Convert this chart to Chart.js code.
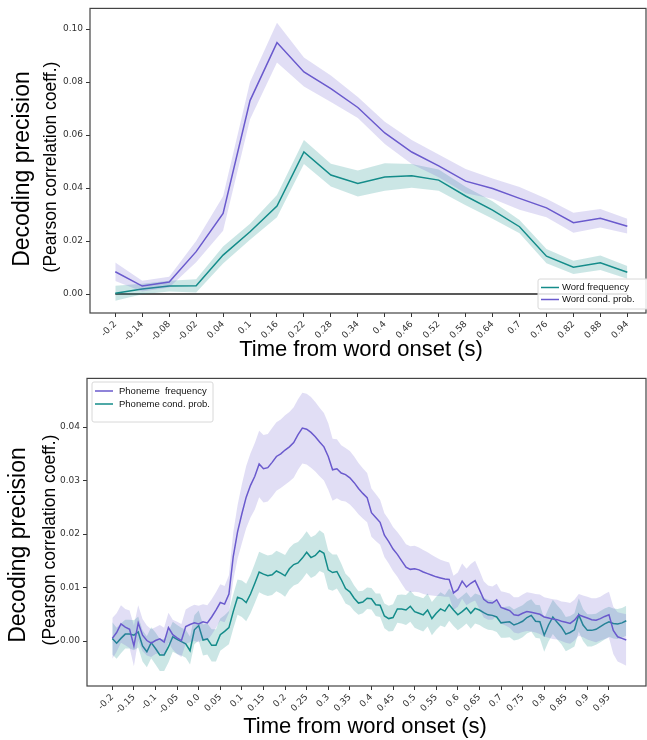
<!DOCTYPE html>
<html lang="en">
<head>
<meta charset="UTF-8">
<title>Decoding precision</title>
<style>
  body { margin: 0; background: #fff; }
  .panel { position: absolute; left: 0; width: 647px; height: 370px; }
</style>
</head>
<body>
<div class="panel" style="top:0"><canvas id="wordChart" width="647" height="370"></canvas></div>
<div class="panel" style="top:370px"><canvas id="phonemeChart" width="647" height="370"></canvas></div>

<script src="https://cdn.jsdelivr.net/npm/chart.js"></script>
<script>
// ---- word-level panel (top) ----
const wordTimes = [-0.2, -0.14, -0.08, -0.02, 0.04, 0.1, 0.16, 0.22, 0.28, 0.34, 0.4, 0.46, 0.52, 0.58, 0.64, 0.7, 0.76, 0.82, 0.88, 0.94];
const wordXLabels = ['-0.2', '-0.14', '-0.08', '-0.02', '0.04', '0.1', '0.16', '0.22', '0.28', '0.34', '0.4', '0.46', '0.52', '0.58', '0.64', '0.7', '0.76', '0.82', '0.88', '0.94'];
const wordYTicks = [0, 0.02, 0.04, 0.06, 0.08, 0.10];
const wordFreq = [0.0003, 0.0019, 0.003, 0.0031, 0.0147, 0.0235, 0.0332, 0.0536, 0.0449, 0.0417, 0.0442, 0.0446, 0.043, 0.037, 0.0317, 0.0254, 0.0143, 0.0101, 0.0118, 0.0082];
const wordFreqSem = [0.0028, 0.002, 0.002, 0.0025, 0.0032, 0.003, 0.0042, 0.0045, 0.0043, 0.0049, 0.0052, 0.0045, 0.004, 0.0035, 0.0033, 0.0025, 0.0027, 0.0025, 0.0027, 0.0024];
const wordCond = [0.0084, 0.003, 0.0045, 0.016, 0.0304, 0.073, 0.0949, 0.0838, 0.0775, 0.0704, 0.0608, 0.0536, 0.0484, 0.0426, 0.0398, 0.0361, 0.0325, 0.0269, 0.0286, 0.0256];
const wordCondSem = [0.0035, 0.002, 0.002, 0.004, 0.0065, 0.007, 0.0075, 0.0055, 0.005, 0.004, 0.0042, 0.0045, 0.0043, 0.0046, 0.0038, 0.0043, 0.0035, 0.0038, 0.0035, 0.0028];

// ---- phoneme-level panel (bottom) ----
const phonTimes = [
  -0.2, -0.19, -0.18, -0.17, -0.16, -0.15, -0.14, -0.13, -0.12, -0.11,
  -0.1, -0.09, -0.08, -0.07, -0.06, -0.05, -0.04, -0.03, -0.02, -0.01,
  0.0, 0.01, 0.02, 0.03, 0.04, 0.05, 0.06, 0.07, 0.08, 0.09,
  0.1, 0.11, 0.12, 0.13, 0.14, 0.15, 0.16, 0.17, 0.18, 0.19,
  0.2, 0.21, 0.22, 0.23, 0.24, 0.25, 0.26, 0.27, 0.28, 0.29,
  0.3, 0.31, 0.32, 0.33, 0.34, 0.35, 0.36, 0.37, 0.38, 0.39,
  0.4, 0.41, 0.42, 0.43, 0.44, 0.45, 0.46, 0.47, 0.48, 0.49,
  0.5, 0.51, 0.52, 0.53, 0.54, 0.55, 0.56, 0.57, 0.58, 0.59,
  0.6, 0.61, 0.62, 0.63, 0.64, 0.65, 0.66, 0.67, 0.68, 0.69,
  0.7, 0.71, 0.72, 0.73, 0.74, 0.75, 0.76, 0.77, 0.78, 0.79,
  0.8, 0.81, 0.82, 0.83, 0.84, 0.85, 0.86, 0.87, 0.88, 0.89,
  0.9, 0.91, 0.92, 0.93, 0.94, 0.95, 0.96, 0.97, 0.98, 0.99
];
const phonXTicks = [-0.2, -0.15, -0.1, -0.05, 0.0, 0.05, 0.1, 0.15, 0.2, 0.25, 0.3, 0.35, 0.4, 0.45, 0.5, 0.55, 0.6, 0.65, 0.7, 0.75, 0.8, 0.85, 0.9, 0.95];
const phonXLabels = ['-0.2', '-0.15', '-0.1', '-0.05', '0.0', '0.05', '0.1', '0.15', '0.2', '0.25', '0.3', '0.35', '0.4', '0.45', '0.5', '0.55', '0.6', '0.65', '0.7', '0.75', '0.8', '0.85', '0.9', '0.95'];
const phonYTicks = [0, 0.01, 0.02, 0.03, 0.04];
const phonFreq = [
  0.0005, 0.0016, 0.0032, 0.0026, 0.0022, -0.0009, 0.0034, 0.0011, 0.0001, -0.0004,
  0.0001, 0.0004, -0.0002, 0.0025, 0.0012, 0.0006, 0.0001, 0.0027, 0.0031, 0.0034,
  0.0032, 0.0036, 0.0034, 0.0045, 0.0058, 0.0072, 0.0069, 0.0088, 0.0158, 0.0204,
  0.0238, 0.0269, 0.0291, 0.0308, 0.0331, 0.0322, 0.0324, 0.0334, 0.0345, 0.035,
  0.0357, 0.0363, 0.0371, 0.0386, 0.0398, 0.0396, 0.039, 0.0382, 0.0372, 0.0363,
  0.0345, 0.032, 0.0322, 0.0314, 0.0311, 0.0305, 0.0296, 0.0285, 0.0276, 0.0268,
  0.024, 0.0231, 0.0222, 0.0198, 0.0186, 0.0172, 0.0162, 0.015, 0.0138, 0.0134,
  0.0135, 0.0133, 0.0129, 0.0126, 0.0123, 0.012, 0.0118, 0.0116, 0.0115, 0.009,
  0.0096, 0.0112, 0.0101, 0.0108, 0.0113, 0.0096, 0.0078, 0.0072, 0.0071, 0.0077,
  0.0063, 0.006, 0.0057, 0.0049, 0.0048, 0.0052, 0.0055, 0.0054, 0.0052, 0.005,
  0.0045, 0.0043, 0.0041, 0.004, 0.0037, 0.0035, 0.0033, 0.0039, 0.0049, 0.0046,
  0.0043, 0.004, 0.0039, 0.0042, 0.0046, 0.0049, 0.002, 0.0008, 0.0005, 0.0002
];
const phonFreqSem = [
  0.0038, 0.0036, 0.0035, 0.0034, 0.0035, 0.0038, 0.0033, 0.003, 0.0028, 0.0026,
  0.0025, 0.0026, 0.0027, 0.0028, 0.0028, 0.003, 0.0031, 0.0032, 0.0033, 0.0034,
  0.0034, 0.0033, 0.0033, 0.0033, 0.0033, 0.0034, 0.0034, 0.0035, 0.0045, 0.005,
  0.0055, 0.0058, 0.006, 0.0062, 0.0062, 0.0063, 0.0063, 0.0064, 0.0064, 0.0064,
  0.0065, 0.0065, 0.0066, 0.0066, 0.0066, 0.0066, 0.0066, 0.0065, 0.0064, 0.0063,
  0.0062, 0.0058, 0.0055, 0.0052, 0.005, 0.005, 0.0049, 0.0048, 0.0047, 0.0046,
  0.0045, 0.0044, 0.0042, 0.0041, 0.0041, 0.0041, 0.0042, 0.0043, 0.0043, 0.0043,
  0.0043, 0.0042, 0.0041, 0.004, 0.0038, 0.0036, 0.0034, 0.0033, 0.0032, 0.0032,
  0.0032, 0.0033, 0.0034, 0.0036, 0.0037, 0.0036, 0.0034, 0.0032, 0.0031, 0.003,
  0.003, 0.0031, 0.0032, 0.0033, 0.0034, 0.0035, 0.0036, 0.0036, 0.0036, 0.0037,
  0.0037, 0.0037, 0.0037, 0.0037, 0.0037, 0.0038, 0.0038, 0.0038, 0.0039, 0.0039,
  0.004, 0.004, 0.0041, 0.0041, 0.0042, 0.0043, 0.0044, 0.0046, 0.0047, 0.0048
];
const phonCond = [
  0.0005, -0.0004, 0.0005, 0.0013, 0.0013, 0.0011, 0.0017, -0.0009, -0.002, -0.0003,
  -0.0014, -0.0026, -0.0026, -0.0011, 0.0008, 0.0003, -0.0001, -0.0005, -0.0018, 0.0021,
  0.0029, 0.0002, 0.0004, -0.0008, -0.0008, 0.0012, 0.0018, 0.0025, 0.0055, 0.0082,
  0.0079, 0.0072, 0.0088, 0.0108, 0.0129, 0.0125, 0.0122, 0.0124, 0.0131, 0.0127,
  0.0122, 0.0135, 0.0143, 0.0146, 0.0155, 0.0166, 0.0156, 0.016, 0.0169, 0.0164,
  0.0133, 0.0128, 0.013, 0.0115, 0.0098, 0.0092, 0.008, 0.0071, 0.0073, 0.008,
  0.0079, 0.0068, 0.0067, 0.0047, 0.0042, 0.0044, 0.006, 0.006, 0.0058, 0.0065,
  0.0055, 0.0052, 0.0049, 0.0058, 0.0042, 0.0052, 0.006, 0.0056, 0.0068, 0.0058,
  0.0049, 0.0055, 0.0062, 0.0052, 0.0061, 0.0058, 0.0053, 0.0049, 0.0048, 0.0045,
  0.0034, 0.0035, 0.0036, 0.003, 0.0033, 0.0037, 0.0044, 0.0048, 0.0037, 0.0036,
  0.0011, 0.003, 0.0045, 0.0035, 0.0026, 0.0013, 0.0016, 0.0021, 0.0049, 0.003,
  0.002, 0.002, 0.0022, 0.0027, 0.0032, 0.0036, 0.0033, 0.0032, 0.0034, 0.0038
];
const phonCondSem = [
  0.003, 0.0029, 0.0028, 0.0027, 0.0027, 0.0028, 0.0029, 0.0029, 0.0029, 0.0029,
  0.003, 0.003, 0.003, 0.0029, 0.0028, 0.0027, 0.0026, 0.0026, 0.0026, 0.0027,
  0.0028, 0.0029, 0.0029, 0.003, 0.003, 0.003, 0.003, 0.0031, 0.0032, 0.0033,
  0.0034, 0.0035, 0.0036, 0.0037, 0.0038, 0.0038, 0.0038, 0.0038, 0.0038, 0.0038,
  0.0039, 0.0039, 0.0039, 0.0039, 0.0039, 0.0039, 0.0038, 0.0038, 0.0038, 0.0037,
  0.0036, 0.0034, 0.0032, 0.003, 0.0028, 0.0026, 0.0024, 0.0022, 0.0021, 0.002,
  0.002, 0.0021, 0.0022, 0.0023, 0.0024, 0.0025, 0.0026, 0.0027, 0.0028, 0.0029,
  0.003, 0.0031, 0.0031, 0.0031, 0.0031, 0.0031, 0.0031, 0.003, 0.003, 0.003,
  0.0029, 0.0029, 0.0029, 0.0029, 0.0028, 0.0028, 0.0028, 0.0028, 0.0028, 0.0028,
  0.0028, 0.0029, 0.0029, 0.0029, 0.003, 0.003, 0.003, 0.003, 0.0031, 0.0031,
  0.0031, 0.0031, 0.0032, 0.0032, 0.0032, 0.0032, 0.0031, 0.0031, 0.0031, 0.003,
  0.003, 0.003, 0.0029, 0.0029, 0.0029, 0.0028, 0.0028, 0.0028, 0.0028, 0.0028
];

const PURPLE = '#6a5acd';
const PURPLE_FILL = 'rgba(106, 90, 205, 0.2)';
const TEAL = '#148c8a';
const TEAL_FILL = 'rgba(20, 140, 138, 0.22)';
const TITLE_FONT = '"Liberation Sans", Arial, sans-serif';
const TICK_FONT = { family: '"DejaVu Sans", sans-serif', size: 9 };

function points(xs, ys) {
    return xs.map((x, i) => ({ x: x, y: ys[i] }));
}

function bandEdge(xs, mean, sem, sign) {
    return xs.map((x, i) => ({ x: x, y: mean[i] + sign * sem[i] }));
}

function meanLine(label, xs, ys, color, order) {
    return { label: label, data: points(xs, ys), borderColor: color, borderWidth: 1.5,
             pointRadius: 0, fill: false, tension: 0, order: order };
}

function bandSets(xs, mean, sem, fillColor, order) {
    return [
        { data: bandEdge(xs, mean, sem, 1), borderWidth: 0, pointRadius: 0, fill: false, order: order },
        { data: bandEdge(xs, mean, sem, -1), borderWidth: 0, pointRadius: 0, fill: '-1',
          backgroundColor: fillColor, order: order }
    ];
}

// frame, axis titles and the small boxed legend
const decorPlugin = {
    id: 'decor',
    afterDraw(chart, args, opts) {
        const ctx = chart.ctx;
        const a = chart.chartArea;
        ctx.save();
        ctx.strokeStyle = '#444';
        ctx.lineWidth = 1.2;
        ctx.strokeRect(a.left, a.top, a.right - a.left, a.bottom - a.top);

        ctx.fillStyle = '#000';
        ctx.textAlign = 'center';
        ctx.textBaseline = 'middle';
        ctx.font = '22px ' + TITLE_FONT;
        ctx.fillText(opts.xTitle.text, opts.xTitle.x, opts.xTitle.y);

        ctx.save();
        ctx.translate(opts.yTitle.x, opts.yTitle.y);
        ctx.rotate(-Math.PI / 2);
        ctx.font = '23px ' + TITLE_FONT;
        ctx.fillText(opts.yTitle.text, 0, 0);
        ctx.restore();
        ctx.save();
        ctx.translate(opts.ySub.x, opts.ySub.y);
        ctx.rotate(-Math.PI / 2);
        ctx.font = '17.5px ' + TITLE_FONT;
        ctx.fillText(opts.ySub.text, 0, 0);
        ctx.restore();

        const lg = opts.legend;
        ctx.fillStyle = 'rgba(255,255,255,0.85)';
        ctx.strokeStyle = '#d8d8d8';
        ctx.lineWidth = 1;
        ctx.beginPath();
        ctx.roundRect(lg.x, lg.y, lg.w, lg.h, 2);
        ctx.fill();
        ctx.stroke();
        ctx.font = '9.5px ' + TITLE_FONT;
        ctx.textAlign = 'left';
        lg.items.forEach((idx, k) => {
            const ds = chart.data.datasets[idx];
            const yy = lg.y + lg.firstRow + k * lg.rowH;
            ctx.strokeStyle = ds.borderColor;
            ctx.lineWidth = 1.5;
            ctx.beginPath();
            ctx.moveTo(lg.x + 3, yy);
            ctx.lineTo(lg.x + 21, yy);
            ctx.stroke();
            ctx.fillStyle = '#111';
            ctx.fillText(ds.label, lg.x + lg.textDx, yy);
        });
        ctx.restore();
    }
};

function axes(xMin, xMax, xTicks, xLabels, yMin, yMax, yTicks, yWidth, xHeight) {
    const grid = { display: true, drawOnChartArea: false, drawTicks: true, tickLength: 4, color: '#333' };
    return {
        x: {
            type: 'linear', min: xMin, max: xMax,
            afterBuildTicks: s => { s.ticks = xTicks.map(v => ({ value: v })); },
            afterFit: s => { s.height = xHeight; },
            ticks: { autoSkip: false, minRotation: 45, maxRotation: 45, padding: 2,
                     font: TICK_FONT, color: '#333', callback: (v, i) => xLabels[i] },
            grid: grid, border: { display: false }
        },
        y: {
            min: yMin, max: yMax,
            afterBuildTicks: s => { s.ticks = yTicks.map(v => ({ value: v })); },
            afterFit: s => { s.width = yWidth; },
            ticks: { padding: 3, font: TICK_FONT, color: '#333', callback: v => v.toFixed(2) },
            grid: grid, border: { display: false }
        }
    };
}

// top: word frequency / word conditional probability
new Chart(document.getElementById('wordChart'), {
    type: 'line',
    data: {
        datasets: [
            meanLine('Word cond. prob.', wordTimes, wordCond, PURPLE, 0),
            ...bandSets(wordTimes, wordCond, wordCondSem, PURPLE_FILL, 1),
            meanLine('Word frequency', wordTimes, wordFreq, TEAL, 2),
            ...bandSets(wordTimes, wordFreq, wordFreqSem, TEAL_FILL, 3),
            { data: [{ x: wordTimes[0], y: 0 }, { x: wordTimes[wordTimes.length - 1], y: 0 }],
              borderColor: '#222', borderWidth: 1.5, pointRadius: 0, fill: false, order: 4 }
        ]
    },
    options: {
        responsive: false,
        animation: false,
        layout: { padding: { top: 8, right: 1, left: 0, bottom: 0 } },
        scales: axes(-0.2563, 0.9816, wordTimes, wordXLabels, -0.00716, 0.1078, wordYTicks, 90, 57),
        plugins: {
            legend: { display: false },
            tooltip: { enabled: false },
            decor: {
                xTitle: { text: 'Time from word onset (s)', x: 361, y: 350 },
                yTitle: { text: 'Decoding precision', x: 23, y: 169 },
                ySub: { text: '(Pearson correlation coeff.)', x: 51, y: 167 },
                legend: { x: 538, y: 279, w: 112, h: 30, firstRow: 8.5, rowH: 12, textDx: 24, items: [3, 0] }
            }
        }
    },
    plugins: [decorPlugin]
});

// bottom: phoneme frequency / phoneme conditional probability
new Chart(document.getElementById('phonemeChart'), {
    type: 'line',
    data: {
        datasets: [
            meanLine('Phoneme  frequency', phonTimes, phonFreq, PURPLE, 0),
            ...bandSets(phonTimes, phonFreq, phonFreqSem, PURPLE_FILL, 1),
            meanLine('Phoneme cond. prob.', phonTimes, phonCond, TEAL, 2),
            ...bandSets(phonTimes, phonCond, phonCondSem, TEAL_FILL, 3)
        ]
    },
    options: {
        responsive: false,
        animation: false,
        layout: { padding: { top: 8, right: 1, left: 0, bottom: 0 } },
        scales: axes(-0.2586, 1.0357, phonXTicks, phonXLabels, -0.0084, 0.04909, phonYTicks, 87, 54),
        plugins: {
            legend: { display: false },
            tooltip: { enabled: false },
            decor: {
                xTitle: { text: 'Time from word onset (s)', x: 365, y: 357 },
                yTitle: { text: 'Decoding precision', x: 19, y: 175 },
                ySub: { text: '(Pearson correlation coeff.)', x: 50, y: 170 },
                legend: { x: 92, y: 12, w: 121, h: 40, firstRow: 9, rowH: 13, textDx: 27, items: [0, 3] }
            }
        }
    },
    plugins: [decorPlugin]
});
</script>
</body>
</html>
